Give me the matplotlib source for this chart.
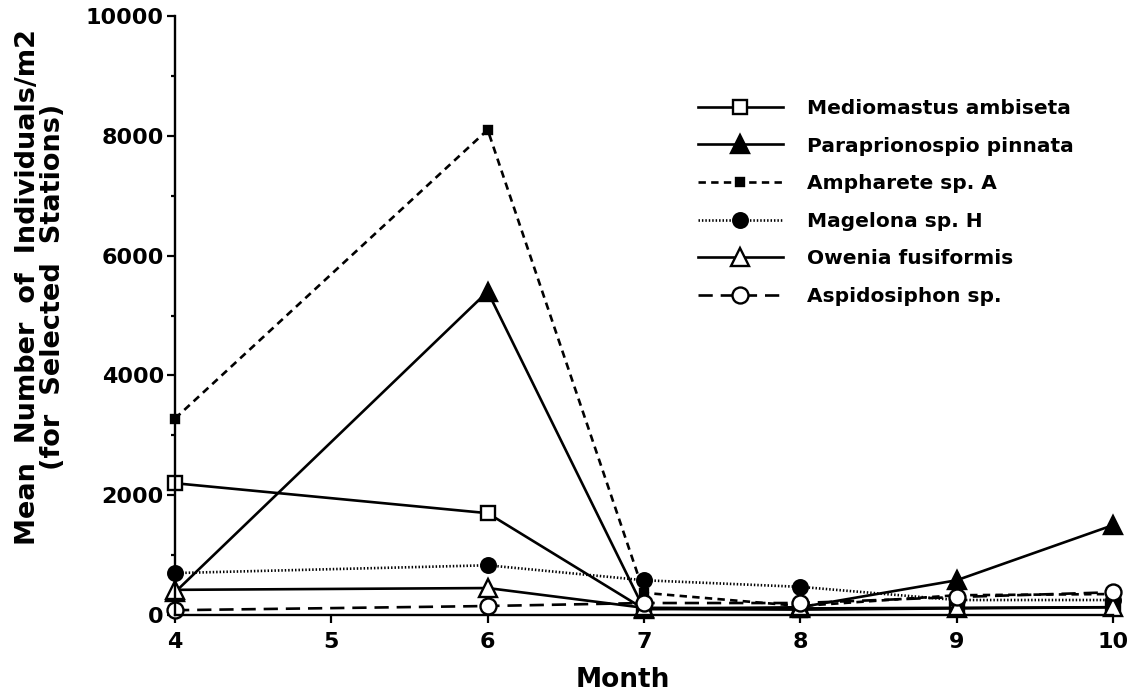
import matplotlib
matplotlib.use("Agg")
import matplotlib.pyplot as plt
from matplotlib.ticker import MultipleLocator

months = [4, 6, 7, 8, 9, 10]
mediomastus = [2200, 1700, 100, 90, 110, 130]
paraprionospio = [380, 5400, 100, 130, 580, 1500]
ampharete = [3280, 8100, 370, 150, 330, 350]
magelona = [700, 830, 580, 470, 250, 250]
owenia = [420, 450, 120, 110, 120, 130]
aspidosiphon = [80, 150, 200, 200, 300, 380]

labels = ["Mediomastus ambiseta", "Paraprionospio pinnata", "Ampharete sp. A",
          "Magelona sp. H", "Owenia fusiformis", "Aspidosiphon sp."]
xticks = [4, 5, 6, 7, 8, 9, 10]
yticks = [0, 2000, 4000, 6000, 8000, 10000]

plt.rcParams['font.family'] = ['DejaVu Sans']
plt.rcParams['font.weight'] = 'bold'

fig = plt.figure(figsize=(11.36, 6.97), dpi=100)
ax = fig.add_axes([175/1136, 1-615/697, (1113-175)/1136, (615-16)/697])

lw = 1.9
mew = 1.7
common = dict(color='black', lw=lw, markeredgewidth=mew, clip_on=False)

ax.plot(months, mediomastus, marker='s', ms=10, mfc='white', mec='black',
        ls='-', label=labels[0], **common)
ax.plot(months, paraprionospio, marker='^', ms=12.5, mfc='black', mec='black',
        ls='-', label=labels[1], **common)
ax.plot(months, ampharete, marker='s', ms=6, mfc='black', mec='black',
        ls=(0, (2.8, 2.0)), label=labels[2], **common)
ax.plot(months, magelona, marker='o', ms=10.5, mfc='black', mec='black',
        ls=(0, (0.55, 0.75)), label=labels[3], **common)
ax.plot(months, owenia, marker='^', ms=12.5, mfc='white', mec='black',
        ls='-', label=labels[4], **common)
ax.plot(months, aspidosiphon, marker='o', ms=11.5, mfc='white', mec='black',
        ls=(0, (5.4, 3.0)), label=labels[5], **common)

ax.set_xlim(4, 10)
ax.set_ylim(0, 10000)
ax.set_xticks(xticks)
ax.set_xticklabels([str(v) for v in xticks])
ax.set_yticks(yticks)
ax.set_yticklabels([str(v) for v in yticks])
ax.yaxis.set_minor_locator(MultipleLocator(1000))

for s in ['top', 'right']:
    ax.spines[s].set_visible(False)
for s in ['left', 'bottom']:
    ax.spines[s].set_linewidth(1.7)

ax.tick_params(axis='both', which='major', direction='out', length=6, width=1.6,
               labelsize=16)
ax.tick_params(axis='y', which='minor', direction='out', length=3, width=1.6)
ax.tick_params(axis='x', which='major', pad=6)
ax.tick_params(axis='y', which='major', pad=2)
for t in ax.get_xticklabels() + ax.get_yticklabels():
    t.set_fontweight('bold')

ax.set_xlabel("Month", fontsize=19, fontweight='bold')
ax.xaxis.set_label_coords((623-175)/938, -(667-615)/599)
ax.set_ylabel("Mean  Number  of  Individuals/m2\n(for  Selected  Stations)",
              fontsize=19.5, fontweight='bold', linespacing=0.95)
ax.yaxis.set_label_coords(-(175-66)/938, (615-287)/599)

leg = fig.legend(loc='upper left', bbox_to_anchor=(698/1136, 1-99/697),
                 frameon=False, fontsize=14.5, handlelength=4.2,
                 handletextpad=1.2, labelspacing=0.92, borderpad=0,
                 borderaxespad=0, numpoints=1)
for t in leg.get_texts():
    t.set_fontweight('bold')

fig.savefig("out.png", dpi=100)
